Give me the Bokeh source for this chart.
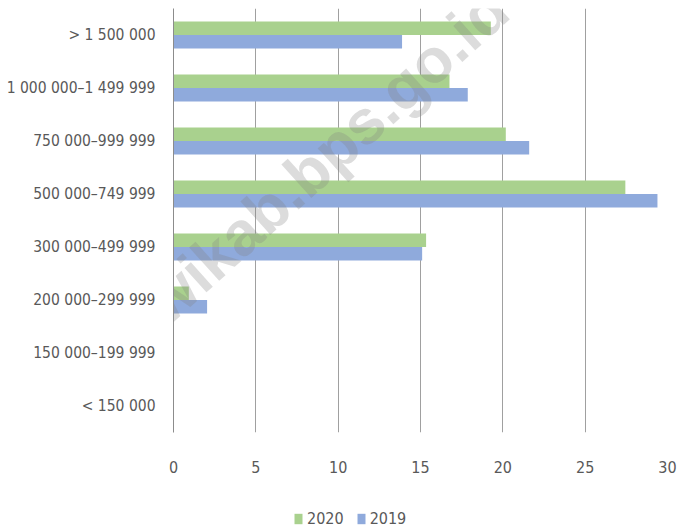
from bokeh.plotting import figure
from bokeh.layouts import column
from bokeh.models import (FactorRange, Range1d, Legend, LegendItem, Label,
                          FixedTicker, ColumnDataSource)
from bokeh.transform import dodge
from bokeh.embed import file_html
from bokeh.resources import INLINE

categories = ["< 150 000", "150 000–199 999", "200 000–299 999", "300 000–499 999",
              "500 000–749 999", "750 000–999 999", "1 000 000–1 499 999", "> 1 500 000"]
v2020 = [0, 0, 0.93, 15.34, 27.44, 20.18, 16.76, 19.27]
v2019 = [0, 0, 2.04, 15.10, 29.39, 21.60, 17.87, 13.88]
x_ticks = [0, 5, 10, 15, 20, 25, 30]
series = ["2020", "2019"]
colors = ["#A9D18E", "#8FAADC"]
watermark = "https://melawikab.bps.go.id"

FONT = "'DejaVu Sans Condensed', Roboto, sans-serif"
TXT = "#595959"

W = 677
H_MAIN = 480
H_LEG = 48

p = figure(width=W, height=H_MAIN,
           y_range=FactorRange(factors=categories, range_padding=0),
           x_range=Range1d(0, 30),
           output_backend="svg", toolbar_location=None,
           min_border_left=173, min_border_right=10, min_border_top=8,
           min_border_bottom=48)

source = ColumnDataSource(dict(cat=categories, v2020=v2020, v2019=v2019))
r1 = p.hbar(y=dodge('cat', 0.128, range=p.y_range), left=0, right='v2020', height=0.256,
            source=source, fill_color=colors[0], line_color=None)
r2 = p.hbar(y=dodge('cat', -0.128, range=p.y_range), left=0, right='v2019', height=0.256,
            source=source, fill_color=colors[1], line_color=None)

p.outline_line_color = None
p.ygrid.grid_line_color = None
p.xgrid.ticker = FixedTicker(ticks=x_ticks)
p.xgrid.grid_line_color = "#a0a0a0"
p.xgrid.grid_line_width = 1

p.xaxis.ticker = FixedTicker(ticks=x_ticks)
p.xaxis.axis_line_color = None
p.xaxis.major_tick_line_color = None
p.xaxis.major_tick_out = 0
p.xaxis.major_tick_in = 0
p.xaxis.minor_tick_line_color = None
p.xaxis.major_label_standoff = 28
p.xaxis.major_label_text_font = FONT
p.xaxis.major_label_text_font_size = "16px"
p.xaxis.major_label_text_color = TXT

p.yaxis.axis_line_color = "#8c8c8c"
p.yaxis.major_tick_line_color = None
p.yaxis.major_tick_out = 0
p.yaxis.major_tick_in = 0
p.yaxis.minor_tick_line_color = None
p.yaxis.major_label_standoff = 18
p.yaxis.major_label_text_font = FONT
p.yaxis.major_label_text_font_size = "15.5px"
p.yaxis.major_label_text_color = TXT

wm = Label(x=1.4, y=3.02, text=watermark, angle=42, angle_units="deg",
           text_align="center", text_baseline="middle",
           text_font="Liberation Sans", text_font_style="bold",
           text_font_size="62px", text_color="#808080", text_alpha=0.28)
p.add_layout(wm)

# legend strip below the chart
q = figure(width=W, height=H_LEG, x_range=Range1d(0, 1), y_range=Range1d(0, 1),
           output_backend="svg", toolbar_location=None,
           min_border_left=0, min_border_right=0, min_border_top=0, min_border_bottom=0)
q.axis.visible = False
q.grid.grid_line_color = None
q.outline_line_color = None
swatch = ColumnDataSource(dict(y=[0.5], right=[0.0]))
k1 = q.hbar(y='y', right='right', left=0, height=0, source=swatch,
            fill_color=colors[0], line_color=None)
k2 = q.hbar(y='y', right='right', left=0, height=0, source=swatch,
            fill_color=colors[1], line_color=None)
legend = Legend(items=[LegendItem(label=series[0], renderers=[k1]),
                       LegendItem(label=series[1], renderers=[k2])],
                orientation="horizontal", location=(120, 0),
                label_text_font=FONT, label_text_font_size="16px",
                label_text_color=TXT, glyph_width=10, glyph_height=13,
                label_standoff=4, spacing=12, padding=0, margin=0,
                border_line_color=None, background_fill_alpha=0)
q.add_layout(legend)

layout = column(p, q, spacing=0)
open("out.html", "w").write(file_html(layout, INLINE))
